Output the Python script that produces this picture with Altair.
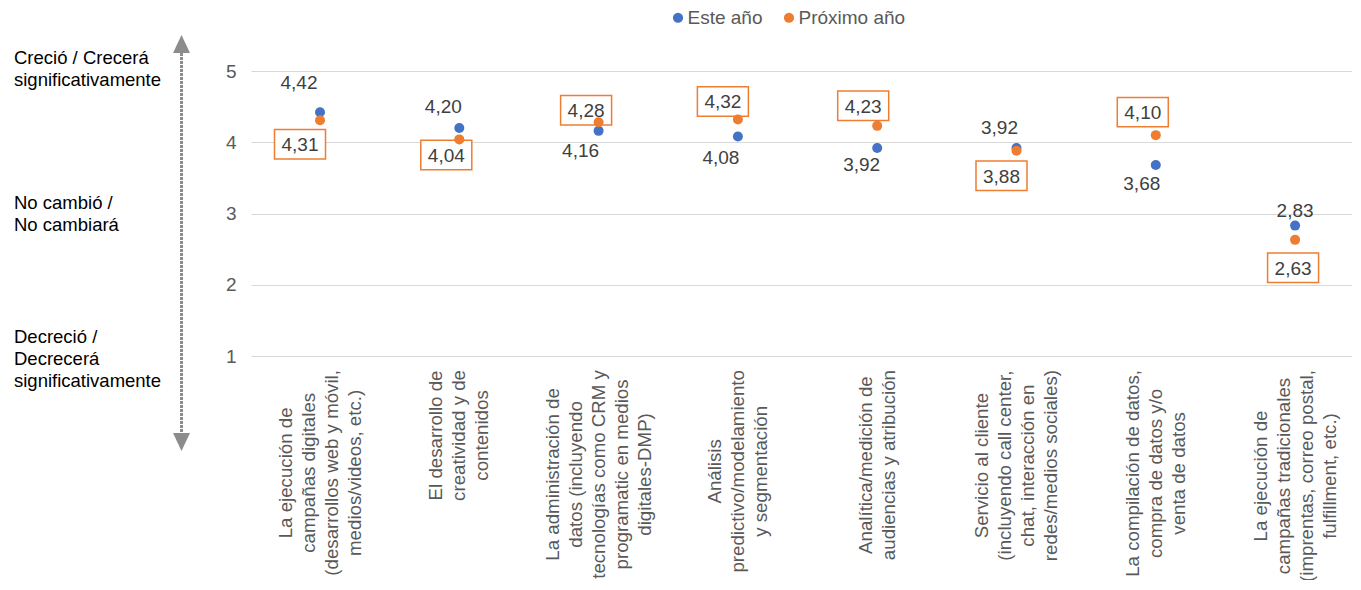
import altair as alt
import pandas as pd

# ---------------- data ----------------
categories = [
    ["La ejecución de", "campañas digitales", "(desarrollos web y móvil,", "medios/videos, etc.)"],
    ["El desarrollo de", "creatividad y de", "contenidos"],
    ["La administración de", "datos (incluyendo", "tecnologías como CRM y", "programatic en medios", "digitales-DMP)"],
    ["Análisis", "predictivo/modelamiento", "y segmentación"],
    ["Analítica/medición de", "audiencias y atribución"],
    ["Servicio al cliente", "(incluyendo call center,", "chat, interacción en", "redes/medios sociales)"],
    ["La compilación de datos,", "compra de datos y/o", "venta de datos"],
    ["La ejecución de", "campañas tradicionales", "(imprentas, correo postal,", "fulfillment, etc.)"],
]
series = ["Este año", "Próximo año"]
este = [4.42, 4.20, 4.16, 4.08, 3.92, 3.92, 3.68, 2.83]
proximo = [4.31, 4.04, 4.28, 4.32, 4.23, 3.88, 4.10, 2.63]
y_ticks = [1, 2, 3, 4, 5]
side_notes = [
    ["Creció / Crecerá", "significativamente"],
    ["No cambió /", "No cambiará"],
    ["Decreció /", "Decrecerá", "significativamente"],
]

# ---------------- layout / style ----------------
FONT = "Liberation Sans"
BLUE = "#4472C4"
ORANGE = "#ED7D31"
GRAY_TXT = "#595959"
LABEL_TXT = "#404040"
ARROW = "#8c8c8c"
FS = 19
FS_X = 18.7
FS_SIDE = 18.5
LH_X = 23
W, H = 1101, 285

# label offsets (px) relative to each point: (dx, dy)
label_offsets = {
    "Este año": [(-21, -30), (-16, -22), (-18, 19.5), (-17, 20), (-15.5, 16), (-17, -20.5), (-14, 18), (0, -16)],
    "Próximo año": [(-20, 24), (-13, 15.5), (-12.5, -12), (-15, -18), (-14, -20), (-15, 25), (-13, -23), (-2, 28)],
}
side_note_baselines = [-7, 138, 272]

keys = [" ".join(c) for c in categories]

rows = []
for s, vals in zip(series, [este, proximo]):
    for i, v in enumerate(vals):
        rows.append({"idx": i, "cat": keys[i], "series": s, "value": v})
df = pd.DataFrame(rows)

# Arial / Liberation Sans advance widths (1/1000 em) to top-align rotated labels
CW = {' ': 278, '(': 333, ')': 333, ',': 278, '-': 333, '.': 278, '/': 278,
      'A': 667, 'C': 722, 'D': 722, 'E': 667, 'L': 556, 'M': 833, 'P': 667, 'R': 722, 'S': 667,
      'a': 556, 'b': 556, 'c': 500, 'd': 556, 'e': 556, 'f': 278, 'g': 556, 'h': 556, 'i': 222,
      'j': 222, 'k': 500, 'l': 222, 'm': 833, 'n': 556, 'o': 556, 'p': 556, 'q': 556, 'r': 333,
      's': 500, 't': 278, 'u': 556, 'v': 500, 'w': 722, 'x': 500, 'y': 500, 'z': 500,
      'á': 556, 'é': 556, 'í': 278, 'ó': 556, 'ú': 556, 'ñ': 556}


def text_w(s, fs):
    return sum(CW.get(ch, 556) for ch in s) * fs / 1000.0


x_enc = alt.X("cat:N", sort=keys,
              scale=alt.Scale(type="point", domain=keys, padding=0.452, align=0.548),
              axis=None)
y_enc = alt.Y("value:Q",
              scale=alt.Scale(domain=[1, 5], nice=False, zero=False),
              axis=alt.Axis(values=y_ticks, grid=True, gridColor="#d9d9d9", gridWidth=1.2,
                            domain=False, ticks=False, labelPadding=15, labelFontSize=FS,
                            labelColor=GRAY_TXT, labelFont=FONT, title=None, format="d"))

base = alt.Chart(df).encode(x=x_enc, y=y_enc).transform_calculate(
    label="replace(format(datum.value, '.2f'), '.', ',')"
)

layers = []

# boxes for "Próximo año" labels
box_shape = "M-1,-0.578H1V0.578H-1Z"
for i, (dx, dy) in enumerate(label_offsets["Próximo año"]):
    layers.append(
        base.transform_filter((alt.datum.series == "Próximo año") & (alt.datum.idx == i))
        .mark_point(shape=box_shape, size=2601, filled=True, fill="white", stroke=ORANGE,
                    strokeWidth=1.5, opacity=1, fillOpacity=1, xOffset=dx, yOffset=dy)
    )

# data labels
for s in series:
    for i, (dx, dy) in enumerate(label_offsets[s]):
        layers.append(
            base.transform_filter((alt.datum.series == s) & (alt.datum.idx == i))
            .mark_text(dx=dx, dy=dy + 1, fontSize=FS, font=FONT, color=LABEL_TXT,
                       align="center", baseline="middle")
            .encode(text="label:N")
        )

# points
layers.append(
    base.mark_circle(size=100, opacity=1).encode(
        color=alt.Color("series:N", scale=alt.Scale(domain=series, range=[BLUE, ORANGE]),
                        legend=alt.Legend(orient="none", legendX=417.5, legendY=-63,
                                          direction="horizontal", title=None,
                                          labelFontSize=FS, labelColor=GRAY_TXT, labelFont=FONT,
                                          symbolType="circle", symbolSize=105, labelOffset=0,
                                          columnPadding=17, padding=0, symbolStrokeWidth=0))
    )
)

# rotated category labels (block top-aligned, lines centred)
xl_df = pd.DataFrame({"idx": list(range(len(keys))), "cat": keys, "lines": categories})
for i, lines in enumerate(categories):
    maxw = max(text_w(l, FS_X) for l in lines)
    layers.append(
        alt.Chart(xl_df).transform_filter(alt.datum.idx == i)
        .mark_text(angle=270, align="center", baseline="middle", fontSize=FS_X, font=FONT,
                   lineHeight=LH_X, color=GRAY_TXT, dy=-(len(lines) - 1) * LH_X / 2)
        .encode(x=x_enc, y=alt.value(299 + maxw / 2), text="lines:N")
    )

# arrow on the left
one = pd.DataFrame({"k": [0]})
layers.append(
    alt.Chart(one).mark_rule(color=ARROW, strokeWidth=3, strokeDash=[3, 1])
    .encode(x=alt.value(-69.5), y=alt.value(-18), y2=alt.value(361))
)
layers.append(
    alt.Chart(one).mark_point(shape="M0,-1.06L1,1.06L-1,1.06Z", size=289, filled=True,
                              color=ARROW, opacity=1, strokeWidth=0)
    .encode(x=alt.value(-69.5), y=alt.value(-27))
)
layers.append(
    alt.Chart(one).mark_point(shape="M0,1.06L1,-1.06L-1,-1.06Z", size=289, filled=True,
                              color=ARROW, opacity=1, strokeWidth=0)
    .encode(x=alt.value(-69.5), y=alt.value(371))
)

# side notes
for lines, yb in zip(side_notes, side_note_baselines):
    layers.append(
        alt.Chart(one).mark_text(align="left", baseline="alphabetic", fontSize=FS_SIDE, font=FONT,
                                 lineHeight=22, color="#000000")
        .encode(x=alt.value(-237), y=alt.value(yb), text=alt.value(lines))
    )

chart = (
    alt.layer(*layers)
    .properties(width=W, height=H,
                autosize=alt.AutoSizeParams(type="none"),
                padding={"left": 243, "top": 63, "right": 0, "bottom": 224})
    .configure_view(stroke=None)
)

chart.save("out.html", embed_options={"renderer": "svg", "actions": False})
